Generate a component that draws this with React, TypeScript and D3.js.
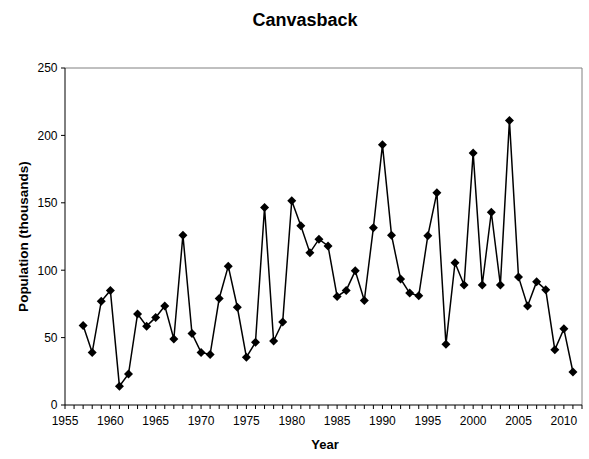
import React from "react";
import * as d3 from "d3";

const years = [1957,1958,1959,1960,1961,1962,1963,1964,1965,1966,1967,1968,1969,1970,1971,1972,1973,1974,1975,1976,1977,1978,1979,1980,1981,1982,1983,1984,1985,1986,1987,1988,1989,1990,1991,1992,1993,1994,1995,1996,1997,1998,1999,2000,2001,2002,2003,2004,2005,2006,2007,2008,2009,2010,2011];
const population = [59,39,77,85,14,23,67.5,58.5,65,73.5,49,126,53,39,37.5,79,103,72.5,35.5,46.5,146.5,47.5,61.5,151.5,133,113,123,118,80.5,85,99.5,77.5,131.5,193,126,93.5,83,81,125.5,157.5,45,105.5,89,187,89,143,89,211,95,73.5,91.5,85.5,41,56.5,24.5];
const xTickLabels = [1955,1960,1965,1970,1975,1980,1985,1990,1995,2000,2005,2010];
const yTickLabels = [0,50,100,150,200,250];

export default function App() {
  const W = 589, H = 459;
  const left = 65, right = 582, top = 68, bottom = 405;
  const x = d3.scaleLinear().domain([1955, 2012]).range([left, right]);
  const y = d3.scaleLinear().domain([0, 250]).range([bottom, top]);
  const line = d3.line<number>().x((_, i) => x(years[i])).y((d) => y(d));
  const allYears = d3.range(1955, 2013);
  const font = "'Liberation Sans', Arial, sans-serif";
  const s = 4.5;
  return (
    <svg width={W} height={H} style={{ position: "absolute", left: 0, top: 0 }} fontFamily={font}>
      <rect x={0} y={0} width={W} height={H} fill="white" />
      <text x={305} y={26} textAnchor="middle" fontSize={18} fontWeight="bold" fill="black">Canvasback</text>
      <line x1={left} x2={right} y1={top} y2={top} stroke="#808080" />
      <line x1={right} x2={right} y1={top} y2={bottom} stroke="#808080" />
      <line x1={left} x2={left} y1={top} y2={bottom} stroke="black" />
      <line x1={left} x2={right} y1={bottom} y2={bottom} stroke="black" />
      {yTickLabels.map((v) => (
        <g key={v}>
          <line x1={left - 4} x2={left} y1={y(v)} y2={y(v)} stroke="black" />
          <text x={left - 7.5} y={y(v) + 4.3} textAnchor="end" fontSize={12} fill="black">{v}</text>
        </g>
      ))}
      {allYears.map((yr) => (
        <line key={yr} x1={x(yr)} x2={x(yr)} y1={bottom} y2={bottom + 4} stroke="black" />
      ))}
      {xTickLabels.map((v) => (
        <text key={v} x={x(v)} y={425} textAnchor="middle" fontSize={12} fill="black">{v}</text>
      ))}
      <text x={325} y={449} textAnchor="middle" fontSize={13} fontWeight="bold" fill="black">Year</text>
      <text transform={`translate(27.5, 236.5) rotate(-90)`} textAnchor="middle" fontSize={13.5} fontWeight="bold" fill="black">Population (thousands)</text>
      <path d={line(population) || ""} fill="none" stroke="black" strokeWidth={1.5} />
      {population.map((v, i) => {
        const cx = x(years[i]), cy = y(v);
        return <path key={i} d={`M${cx},${cy - s}L${cx + s},${cy}L${cx},${cy + s}L${cx - s},${cy}Z`} fill="black" />;
      })}
    </svg>
  );
}
